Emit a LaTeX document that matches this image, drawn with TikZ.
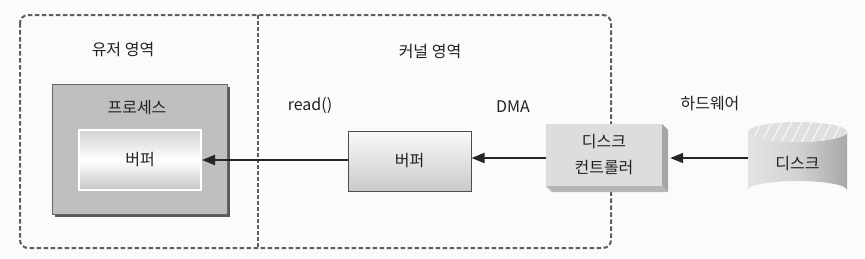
\documentclass[tikz,border=0pt]{standalone}
\usepackage{fontspec}
\setmainfont{Noto Sans CJK KR}
\usepackage{xcolor}
\usetikzlibrary{arrows.meta, positioning, calc}
\definecolor{fond}{HTML}{FBFBFB}
\definecolor{trait}{HTML}{5E5E5E}
\definecolor{texte}{HTML}{222222}
\definecolor{ombre}{HTML}{5A5A5A}

\tikzset{
  lbl/.style={font=\fontsize{16}{26}\selectfont, text=texte},
  fleche/.style={line width=1.8pt, color=black!85, -{Triangle[length=13pt, width=10pt]}},
  zone/.style={trait, line width=2pt, dash pattern=on 4.5pt off 2.5pt},
}

\begin{document}
\begin{tikzpicture}[x=1pt, y=-1pt]
    \useasboundingbox[fill=fond] (0,0) rectangle (865,258);
    % Zones
    \draw[zone, rounded corners=8pt] (20,15) rectangle (611,248);
    \draw[zone, dash pattern=on 3.5pt off 2.5pt] (258,15) -- (258,248);
    \node[lbl] (user) at (123,50) {유저 영역};
    \node[lbl] (kernel) at (430,52) {커널 영역};
    \node[lbl] (hw) at (710,104) {하드웨어};
    % Processus
    \fill[ombre] (55,87) rectangle (230,217);
    \node[draw=black!60, fill=gray!50, minimum width=175pt, minimum height=130pt, inner sep=0pt] (proc) at (139.5,149) {};
    \node[lbl] (proctitle) at (137,108) {프로세스};
    \node[lbl, draw=white, line width=2pt, top color=gray!35, bottom color=gray!45, middle color=white,
          minimum width=122pt, minimum height=60pt, inner sep=0pt] (pbuf) at (140,160) {버퍼};
    % Noyau
    \node[lbl] (read) at (310,106) {read()};
    \node[lbl] (dma) at (513,107) {DMA};
    \node[lbl, draw=black!70, line width=1pt, top color=gray!4, bottom color=gray!42,
          minimum width=123pt, minimum height=60pt, inner sep=0pt] (kbuf) at (409.5,161) {버퍼};
    % Controleur
    \fill[gray!70] (662,124) -- (668,130) -- (668,192) -- (662,186) -- cycle;
    \fill[gray!58] (546,186) -- (662,186) -- (668,192) -- (552,192) -- cycle;
    \node[lbl, fill=gray!27, align=center, minimum width=116pt, minimum height=62pt, inner sep=0pt] (ctrl) at (604,155) {디스크\\컨트롤러};
    % Disque
    \path[left color=gray!22, right color=gray!68, middle color=gray!35]
      (748,132) -- (748,190) arc[start angle=180, end angle=0, x radius=49.5pt, y radius=9pt]
      -- (847,132) arc[start angle=0, end angle=-180, x radius=49.5pt, y radius=10pt] -- cycle;
    \fill[gray!25] (797.5,132) ellipse[x radius=49.5pt, y radius=10pt];
    \begin{scope}
      \clip (797.5,132) ellipse[x radius=49.5pt, y radius=10pt];
      \foreach \x in {740,750,...,860}
        \draw[gray!8, line width=1.3pt] (\x,145) -- (\x+14,118);
    \end{scope}
    \node[lbl, minimum width=99pt, minimum height=52pt, inner sep=0pt] (disk) at (797.5,164) {디스크};
    % Fleches
    \draw[fleche, shorten >=8pt] (disk.west |- 0,158) -- (ctrl.east |- 0,158);
    \draw[fleche] (ctrl.west |- 0,158) -- (kbuf.east |- 0,158);
    \draw[fleche] (kbuf.west |- pbuf) -- (pbuf.east);
\end{tikzpicture}
\end{document}
